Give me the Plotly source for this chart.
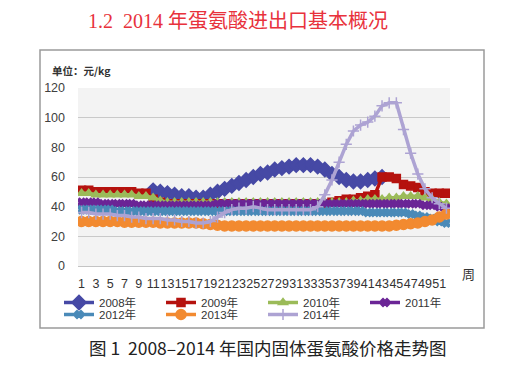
import plotly.graph_objects as go

weeks = list(range(1, 53))
tick_weeks = list(range(1, 52, 2))
y_ticks = [0, 20, 40, 60, 80, 100, 120]

names = ["2008年", "2009年", "2010年", "2011年", "2012年", "2013年", "2014年"]

N = None
p2008 = [N]*10 + [51, 50, 49, 48, 47, 47, 46, 46, 48, 50,
                  52, 54, 56, 58, 60, 62, 63, 65, 66, 67,
                  68, 68, 68, 67, 65, 62, 60, 58, 57, 57,
                  58, 59, 60] + [N]*9
p2009 = [51, 51, 50, 50, 50, 50, 50, 50, 49, 49,
         45, 43, 42, 42, 42, 42, 42, 42, 42, 42,
         42, 42, 42, 42, 42, 42, 42, 42, 42, 42,
         42, 42, 42, 42, 42, 43, 44, 45, 45, 46,
         47, 48, 60, 60, 59, 55, 54, 53, 50, 49,
         49, 49]
p2010 = [49, 49, 48, 48, 48, 48, 48, 48, 47, 47,
         46, 44, 43, 43, 43, 43, 43, 43, 43, 43,
         43, 43, 43, 43, 43, 43, 43, 43, 43, 43,
         43, 43, 43, 43, 43, 43, 43, 43, 44, 44,
         45, 45, 45, 46, 46, 47, 47, 47, 46, 45,
         43, 42]
p2011 = [43, 43, 43, 42, 42, 42, 42, 42, 41, 41,
         41, 41, 41, 41, 41, 41, 41, 41, 41, 42,
         42, 42, 42, 42, 42, 42, 42, 42, 42, 42,
         42, 42, 42, 42, 42, 42, 42, 42, 42, 42,
         42, 42, 42, 42, 42, 42, 42, 42, 41, 41,
         40, 39]
p2012 = [38, 38, 38, 38, 38, 37, 37, 37, 37, 37,
         37, 37, 37, 37, 37, 37, 37, 37, 37, 37,
         37, 37, 37, 37, 37, 37, 37, 37, 37, 37,
         37, 37, 37, 37, 37, 37, 37, 37, 37, 37,
         36, 36, 36, 36, 36, 36, 35, 34, 33, 32,
         30, 29]
p2013 = [30, 30, 30, 30, 30, 30, 29.5, 29.5, 29.5, 29.5,
         29.5, 29, 29, 29, 29, 29, 29, 28.5, 28, 27.5,
         27, 27, 27, 27, 27, 27, 27, 27, 27, 27,
         27, 27, 27, 27, 27, 27, 27, 27, 27, 27,
         27, 27, 27, 27, 27.5, 28, 28.5, 29, 30, 31,
         33, 35]
p2014 = [36, 36, 35, 35, 35, 34, 34, 33, 33, 32,
         32, 32, 31, 31, 30, 30, 29, 29, 30, 33,
         36, 38, 39, 39, 40, 39, 38, 38, 38, 38,
         38, 38, 38, 40, 48, 58, 70, 82, 91, 95,
         97, 101, 108, 110, 110, 92, 76, 62, 52, 46,
         42, 39]

series = [p2008, p2009, p2010, p2011, p2012, p2013, p2014]
colors = ["#4649A5", "#B5120E", "#9BBB59", "#6B2596", "#4A8AB8", "#F28A30", "#ADA3D3"]
symbols = ["diamond", "square", "triangle-up", "x", "x", "circle", "cross-thin"]
msizes = [11, 8, 8, 7, 7, 10, 8]
lwidths = [3.5, 3.5, 3.5, 3.5, 3.5, 3.5, 3.5]
legend_ids = ["legend", "legend", "legend", "legend", "legend2", "legend2", "legend2"]

fig = go.Figure()
for name, vals, col, sym, ms, lw, lg in zip(names, series, colors, symbols, msizes, lwidths, legend_ids):
    assert len(vals) == 52
    fig.add_trace(go.Scatter(
        x=weeks, y=vals, name=name, mode="lines+markers",
        line=dict(color=col, width=lw),
        marker=dict(symbol=sym, size=ms, color=col,
                    line=dict(color=col, width=1.5)),
        legend=lg, connectgaps=False,
    ))

# the page body has an 8px margin, so the figure is drawn 8px in and down
OFF = 8
W, H = 515 - OFF, 385 - OFF
L, T = 78 - OFF, 88 - OFF
R = W - (450 - OFF)
B = H - (266 - OFF)
pw, ph = W - L - R, H - T - B


def px(x):
    return (x - OFF - L) / pw


def py(y):
    return (H - B - (y - OFF)) / ph


leg_common = dict(orientation="h", xanchor="left", yanchor="top",
                  entrywidth=57, entrywidthmode="pixels", itemwidth=30,
                  bgcolor="rgba(0,0,0,0)", font=dict(size=11.5, color="#333333"))

fig.update_layout(
    width=W, height=H,
    margin=dict(l=L, r=R, t=T, b=B, pad=0),
    paper_bgcolor="white", plot_bgcolor="#f3f3f3",
    font=dict(family="Liberation Sans, Noto Sans CJK SC, sans-serif", color="#333333", size=12),
    xaxis=dict(range=[0.5, 52.5], tickvals=tick_weeks, ticktext=[str(w) for w in tick_weeks],
               tickangle=0, showgrid=False, zeroline=False, showline=True, linecolor="#c4c4c4",
               tickfont=dict(size=12.5, color="#333333"), ticks="", ticklabelstandoff=6),
    yaxis=dict(range=[0, 120], tickvals=y_ticks, showgrid=True, gridcolor="#c9c9c9",
               zeroline=False, showline=False, tickfont=dict(size=12.5, color="#404040"),
               ticks="", ticklabelstandoff=12),
    legend=dict(x=px(59), y=py(288), **leg_common),
    legend2=dict(x=px(59), y=py(300), **leg_common),
    showlegend=True,
)

fig.add_shape(type="rect", xref="paper", yref="paper",
              x0=px(40), x1=px(484), y0=py(328), y1=py(50),
              line=dict(color="#9a9a9a", width=1.5), layer="below")

fig.add_annotation(text="1.2  2014 年蛋氨酸进出口基本概况", xref="paper", yref="paper",
                   x=px(86), y=py(21), xanchor="left", yanchor="middle", showarrow=False,
                   font=dict(family="Liberation Serif, Noto Sans CJK SC, serif", size=20, color="#E8323C"))
fig.add_annotation(text="<b>单位：元/kg</b>", xref="paper", yref="paper",
                   x=px(50), y=py(70), xanchor="left", yanchor="middle", showarrow=False,
                   font=dict(family="Noto Sans CJK SC, sans-serif", size=10.5, color="#333333"))
fig.add_annotation(text="周", xref="paper", yref="paper",
                   x=px(468), y=py(273), xanchor="center", yanchor="middle", showarrow=False,
                   font=dict(family="Noto Sans CJK SC, sans-serif", size=13, color="#333333"))
fig.add_annotation(text="图 1  2008–2014 年国内固体蛋氨酸价格走势图", xref="paper", yref="paper",
                   x=px(267.5), y=py(347), xanchor="center", yanchor="middle", showarrow=False,
                   font=dict(family="Noto Sans CJK SC, sans-serif", size=17.5, color="#222222"))

fig.write_html("out.html")
